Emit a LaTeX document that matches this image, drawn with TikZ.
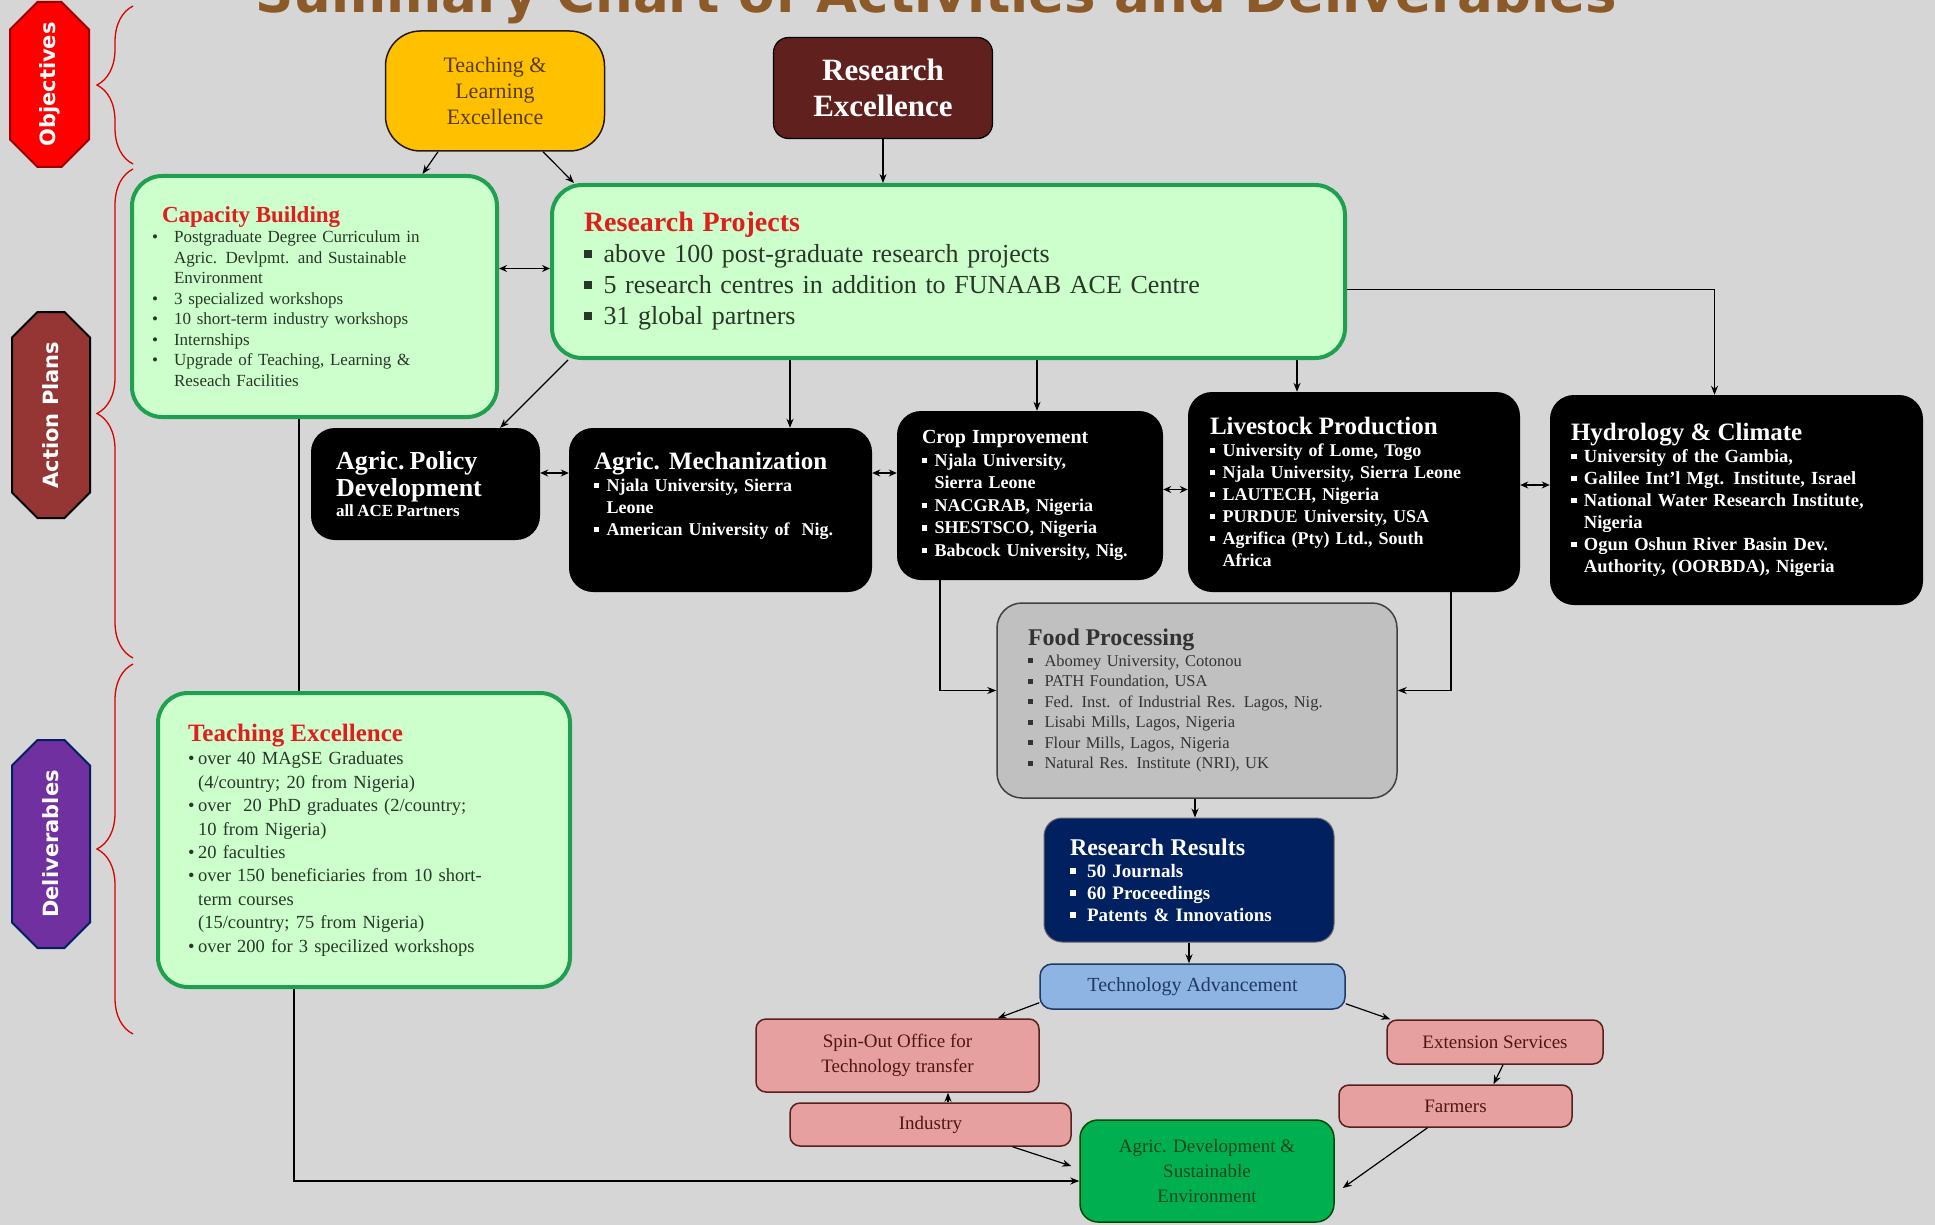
\documentclass[tikz,border=0pt]{standalone}
\usepackage{fontspec}
\setmainfont{Liberation Serif}
\newfontfamily\labelfont{DejaVu Sans}
\usetikzlibrary{positioning,shapes.misc,arrows.meta,decorations.pathreplacing}

\definecolor{bggray}{RGB}{214,214,214}
\definecolor{boxgreen}{RGB}{204,255,204}
\definecolor{edgegreen}{RGB}{30,160,80}
\definecolor{titlered}{RGB}{225,30,30}
\definecolor{bodytext}{RGB}{40,55,40}
\definecolor{tlegold}{RGB}{255,192,0}
\definecolor{tletext}{RGB}{90,60,10}
\definecolor{remaroon}{RGB}{96,32,30}
\definecolor{foodgray}{RGB}{192,192,192}
\definecolor{navy}{RGB}{0,32,96}
\definecolor{techblue}{RGB}{141,180,226}
\definecolor{techedge}{RGB}{31,56,100}
\definecolor{pinkfill}{RGB}{230,160,160}
\definecolor{pinkedge}{RGB}{90,30,30}
\definecolor{pinktext}{RGB}{80,20,20}
\definecolor{devgreen}{RGB}{0,176,80}
\definecolor{devtext}{RGB}{20,70,30}
\definecolor{objred}{RGB}{255,0,0}
\definecolor{actbrown}{RGB}{150,54,52}
\definecolor{delpurple}{RGB}{112,48,160}
\definecolor{titlebrown}{RGB}{140,90,40}

\newcommand{\sqb}{\rule[0.18em]{0.3em}{0.3em}}
\newcommand{\sqitem}[2][1.1em]{\par\hangindent=#1\hangafter=1\noindent\makebox[#1][l]{\sqb}#2\par}
\newcommand{\dotitem}[2][0.55em]{\par\hangindent=#1\hangafter=1\noindent\makebox[#1][l]{\textbullet}#2\par}

\tikzset{
  conn/.style={-{Stealth[length=9pt,width=7pt]},line width=1.2pt},
  link/.style={line width=1.2pt},
  twoway/.style={{Stealth[length=8pt,width=7pt]}-{Stealth[length=8pt,width=7pt]},line width=1.2pt},
  greenbox/.style={draw=edgegreen,line width=4pt,fill=boxgreen,rounded corners=30pt,align=left,text=bodytext},
  blackbox/.style={fill=black,text=white,rounded corners=24pt,align=left,font=\bfseries},
  pinkbox/.style={draw=pinkedge,line width=1.5pt,fill=pinkfill,text=pinktext,rounded corners=10pt,align=center,font=\fontsize{19}{25}\selectfont},
  sidelabel/.style={chamfered rectangle,chamfered rectangle xsep=14pt,chamfered rectangle ysep=14pt,rotate=90,line width=2pt,text=white,font=\labelfont\bfseries\fontsize{21}{21}\selectfont},
  sidebrace/.style={draw=red!85!black,line width=1.3pt,decorate,decoration={brace,amplitude=36pt}},
}

\begin{document}
\begin{tikzpicture}[x=1pt,y=-1pt]
\useasboundingbox (0,0) rectangle (1935,1225);
% background
\fill[bggray] (0,0) rectangle (1935,1225);

% title, cut by the top edge
\node[anchor=base,text=titlebrown,font=\labelfont\bfseries\fontsize{53}{53}\selectfont] (title) at (936,13) {Summary Chart of Activities and Deliverables};

% row labels
\node[sidelabel,fill=objred,draw=red!60!black,minimum width=165pt,minimum height=79pt] (objectives) at (49.5,84.5) {Objectives};
\node[sidelabel,fill=actbrown,draw=black,minimum width=206pt,minimum height=78pt] (actionplans) at (51,415) {Action Plans};
\node[sidelabel,fill=delpurple,draw=navy,minimum width=208pt,minimum height=78pt] (deliverables) at (51,844) {Deliverables};
\draw[sidebrace] (133,164) -- (133,6);
\draw[sidebrace] (133,658) -- (133,169);
\draw[sidebrace] (133,1034) -- (133,664);

% objectives
\node[fill=tlegold,draw=black!80!brown,line width=1.5pt,rounded corners=35pt,minimum width=219pt,minimum height=120pt,align=center,text=tletext,font=\fontsize{22}{26}\selectfont] (tle) at (495,91) {Teaching \&\\Learning\\Excellence};
\node[fill=remaroon,draw=black,line width=1.2pt,rounded corners=15pt,minimum width=219pt,minimum height=101pt,align=center,text=white,font=\bfseries\fontsize{31}{36}\selectfont] (re) at (883,88) {Research\\Excellence};

% action plans
\node[greenbox,minimum width=365pt,minimum height=241pt,inner xsep=20pt,text width=325pt,font=\fontsize{17}{20.5}\selectfont] (capacity) at (314.5,296.5) {%
{\fontsize{23}{27}\selectfont\bfseries\color{titlered}\hspace*{10pt}Capacity Building\par}%
\dotitem[1.3em]{Postgraduate Degree Curriculum in\newline Agric. Devlpmt. and Sustainable\newline Environment}%
\dotitem[1.3em]{3 specialized workshops}%
\dotitem[1.3em]{10 short-term industry workshops}%
\dotitem[1.3em]{Internships}%
\dotitem[1.3em]{Upgrade of Teaching, Learning \&\newline Reseach Facilities}};

\node[greenbox,minimum width=793pt,minimum height=173pt,inner xsep=32pt,text width=729pt,font=\fontsize{26}{31}\selectfont] (projects) at (948.5,271.5) {%
{\fontsize{28}{33}\selectfont\bfseries\color{titlered}Research Projects\par}%
\sqitem[0.75em]{above 100 post-graduate research projects}%
\sqitem[0.75em]{5 research centres in addition to FUNAAB ACE Centre}%
\sqitem[0.75em]{31 global partners}};

\node[blackbox,minimum width=229pt,minimum height=112pt,inner xsep=25pt,text width=179pt] (policy) at (425.5,484) {%
{\fontsize{26}{27}\selectfont Agric. Policy\\Development\par}%
{\fontsize{17}{20}\selectfont all ACE Partners\par}};

\node[blackbox,minimum width=303pt,minimum height=164pt,inner xsep=25pt,text width=253pt,font=\bfseries\fontsize{18}{22}\selectfont] (mech) at (720.5,510) {%
{\fontsize{25}{28}\selectfont Agric. Mechanization\par}%
\sqitem[0.7em]{Njala University, Sierra\newline Leone}%
\sqitem[0.7em]{American University of~~Nig.}\vspace{28pt}};

\node[blackbox,minimum width=266pt,minimum height=169pt,inner xsep=25pt,text width=216pt,font=\bfseries\fontsize{18}{22.5}\selectfont] (crop) at (1030,495.5) {%
{\fontsize{20}{24}\selectfont Crop Improvement\par}%
\sqitem[0.7em]{Njala University,\newline Sierra Leone}%
\sqitem[0.7em]{NACGRAB, Nigeria}%
\sqitem[0.7em]{SHESTSCO, Nigeria}%
\sqitem[0.7em]{Babcock University, Nig.}};

\node[blackbox,minimum width=332pt,minimum height=200pt,inner xsep=22pt,text width=288pt,font=\bfseries\fontsize{18}{22}\selectfont] (livestock) at (1354,492) {%
{\fontsize{25}{28}\selectfont Livestock Production\par}%
\sqitem[0.7em]{University of Lome, Togo}%
\sqitem[0.7em]{Njala University, Sierra Leone}%
\sqitem[0.7em]{LAUTECH, Nigeria}%
\sqitem[0.7em]{PURDUE University, USA}%
\sqitem[0.7em]{Agrifica (Pty) Ltd., South\newline Africa}};

\node[blackbox,minimum width=373pt,minimum height=210pt,inner xsep=21pt,text width=331pt,font=\bfseries\fontsize{18.5}{22}\selectfont] (hydro) at (1736.5,500) {%
{\fontsize{25}{28}\selectfont Hydrology \& Climate\par}%
\sqitem[0.7em]{University of the Gambia,}%
\sqitem[0.7em]{Galilee Int'l Mgt. Institute, Israel}%
\sqitem[0.7em]{National Water Research Institute,\newline Nigeria}%
\sqitem[0.7em]{Ogun Oshun River Basin Dev.\newline Authority, (OORBDA), Nigeria}};

\node[fill=foodgray,draw=black!75,line width=1.5pt,rounded corners=25pt,minimum width=400pt,minimum height=195pt,inner xsep=31pt,text width=338pt,align=left,text=black!80,font=\fontsize{16.5}{20.5}\selectfont] (food) at (1197,700.5) {%
{\fontsize{24}{28}\selectfont\bfseries Food Processing\par}%
\sqitem[1em]{Abomey University, Cotonou}%
\sqitem[1em]{PATH Foundation, USA}%
\sqitem[1em]{Fed. Inst. of Industrial Res. Lagos, Nig.}%
\sqitem[1em]{Lisabi Mills, Lagos, Nigeria}%
\sqitem[1em]{Flour Mills, Lagos, Nigeria}%
\sqitem[1em]{Natural Res. Institute (NRI), UK}};

% deliverables
\node[fill=navy,draw=black!60,line width=1pt,rounded corners=18pt,minimum width=290pt,minimum height=124pt,inner xsep=26pt,text width=238pt,align=left,text=white,font=\bfseries\fontsize{19}{22}\selectfont] (results) at (1189,880) {%
{\fontsize{24}{27}\selectfont Research Results\par}%
\sqitem[0.9em]{50 Journals}%
\sqitem[0.9em]{60 Proceedings}%
\sqitem[0.9em]{Patents \& Innovations}};

\node[fill=techblue,draw=techedge,line width=1.5pt,rounded corners=12pt,minimum width=305pt,minimum height=45pt,text=techedge,font=\fontsize{20}{24}\selectfont] (tech) at (1192.5,986.5) {Technology Advancement};

\node[pinkbox,minimum width=283pt,minimum height=73pt] (spinout) at (897.5,1055.5) {Spin-Out Office for\\Technology transfer};
\node[pinkbox,minimum width=281pt,minimum height=43pt] (industry) at (930.5,1124.5) {Industry};
\node[pinkbox,minimum width=216pt,minimum height=44pt] (extension) at (1495,1042) {Extension Services};
\node[pinkbox,minimum width=233pt,minimum height=42pt] (farmers) at (1455.5,1106) {Farmers};

\node[fill=devgreen,draw=black!70!green,line width=1.5pt,rounded corners=18pt,minimum width=254pt,minimum height=102pt,align=center,text=devtext,font=\fontsize{19}{25}\selectfont] (agdev) at (1207,1171) {Agric. Development \&\\Sustainable\\Environment};

\node[greenbox,minimum width=412pt,minimum height=294pt,inner xsep=30pt,text width=352pt,font=\fontsize{18.5}{23.4}\selectfont] (teaching) at (364,840) {%
{\fontsize{25}{29}\selectfont\bfseries\color{titlered}Teaching Excellence\par}%
\dotitem{over 40 MAgSE Graduates\newline (4/country; 20 from Nigeria)}%
\dotitem{over~ 20 PhD graduates (2/country;\newline 10 from Nigeria)}%
\dotitem{20 faculties}%
\dotitem{over 150 beneficiaries from 10 short-\newline term courses\newline (15/country; 75 from Nigeria)}%
\dotitem{over 200 for 3 specilized workshops}};

% connectors: objectives to action plans
\draw[conn] ([xshift=-57pt]tle.south) -- ([xshift=108pt]capacity.north);
\draw[conn] ([xshift=48pt]tle.south) -- ([xshift=24pt]projects.north west);
\draw[conn] (re.south) -- (re.south |- projects.north);
\draw[twoway] ([yshift=28pt]capacity.east) -- ([yshift=28pt]capacity.east -| projects.west);

% research projects to the research areas
\draw[conn] ([xshift=18pt]projects.south west) -- ([xshift=-40pt]policy.north east);
\draw[conn] ([xshift=69.5pt]mech.north |- projects.south) -- ([xshift=69.5pt]mech.north);
\draw[conn] ([xshift=7pt]crop.north |- projects.south) -- ([xshift=7pt]crop.north);
\draw[conn] ([xshift=-57pt]livestock.north |- projects.south) -- ([xshift=-57pt]livestock.north);
\draw[conn] ([yshift=-18pt]projects.east) -| ([xshift=-22pt]hydro.north);
\draw[twoway] ([yshift=11pt]policy.east) -- ([yshift=11pt]policy.east -| mech.west);
\draw[twoway] ([yshift=37pt]mech.east) -- ([yshift=37pt]mech.east -| crop.west);
\draw[twoway] ([yshift=6pt]crop.east) -- ([yshift=6pt]crop.east -| livestock.west);
\draw[twoway] ([yshift=7pt]livestock.east) -- ([yshift=7pt]livestock.east -| hydro.west);

% into food processing and on to results
\draw[conn] ([xshift=-90pt]crop.south) |- ([yshift=10pt]food.west);
\draw[conn] ([xshift=97pt]livestock.south) |- ([yshift=10pt]food.east);
\draw[conn] ([xshift=6pt]results.north |- food.south) -- ([xshift=6pt]results.north);
\draw[conn] (results.south) -- (results.south |- tech.north);
\draw[conn] ([yshift=7pt]tech.south west) -- ([xshift=-42pt]spinout.north east);
\draw[conn] ([yshift=6pt]tech.south east) -- ([xshift=4pt]extension.north west);
\draw[conn] ([xshift=17.5pt]industry.north) -- ([xshift=17.5pt]industry.north |- spinout.south);
\draw[conn] ([xshift=8pt]extension.south) -- ([xshift=38pt]farmers.north);
\draw[conn] ([xshift=82pt]industry.south) -- ([xshift=-8pt,yshift=5pt]agdev.west);
\draw[conn] ([xshift=-28pt]farmers.south) -- ([xshift=8pt,yshift=-17pt]agdev.east);

% teaching line
\draw[link] ([xshift=-15.5pt]capacity.south) -- ([xshift=-15.5pt]capacity.south |- teaching.north);
\draw[conn] ([xshift=-70pt]teaching.south) |- ([yshift=-10pt]agdev.west);

\end{tikzpicture}
\end{document}
